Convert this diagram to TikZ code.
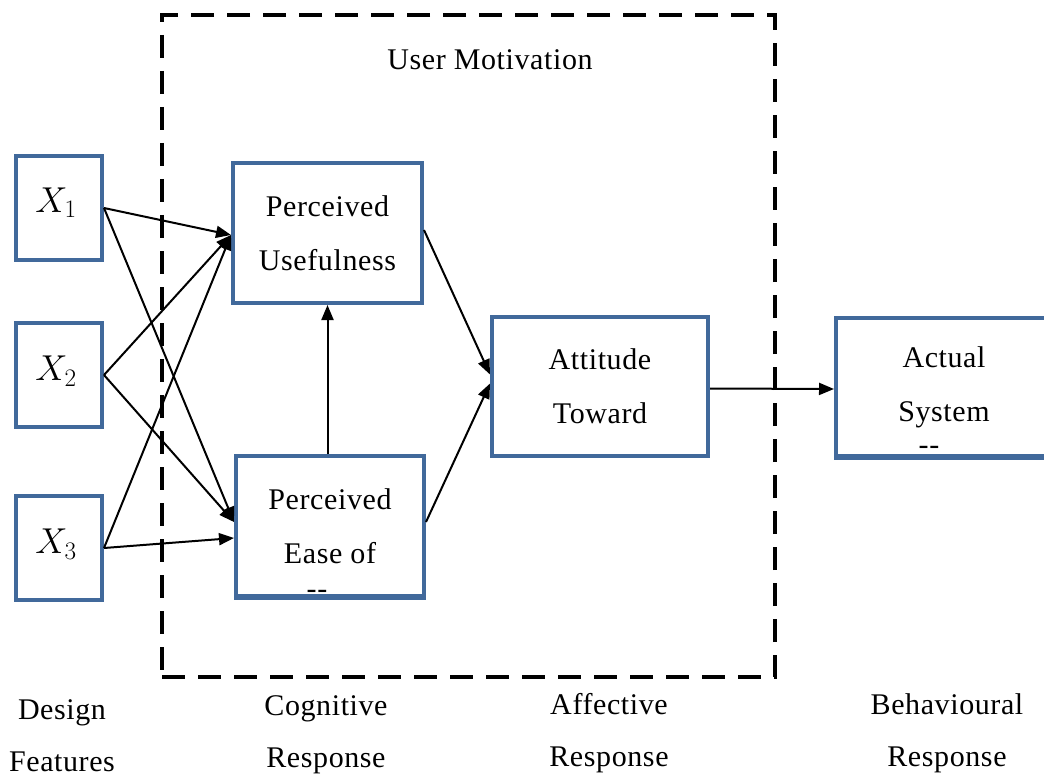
\RequirePackage{fix-cm}
\documentclass[tikz,border=0pt]{standalone}
\usepackage{fontspec}
\setmainfont[LetterSpace=2]{Liberation Serif}
\usetikzlibrary{arrows.meta,calc}
\definecolor{boxblue}{HTML}{41699B}
\tikzset{
  box/.style={draw=boxblue, line width=4pt, fill=white, inner sep=0pt, align=center,
    font=\fontsize{30}{54}\selectfont},
  xbox/.style={box, minimum width=86pt, minimum height=104pt},
  xlbl/.style={inner sep=0pt, font=\fontsize{36}{40}\selectfont},
  bigbox/.style={box, minimum height=140pt},
  conn/.style={line width=2pt, -{Triangle[length=15pt,width=12pt]}},
  lbl/.style={inner sep=0pt, font=\fontsize{30}{52}\selectfont, align=center},
  frame/.style={draw, line width=4pt, dash pattern=on 23pt off 13pt, minimum width=613pt, minimum height=662pt, inner sep=0pt}
}
\begin{document}
\begin{tikzpicture}[x=1pt,y=-1pt]
\useasboundingbox (0,0) rectangle (1044,778);
\clip (0,0) rectangle (1044,778);
% dashed frame
\node[frame] (um) at (468.5,346) {};
\node[lbl] (umt) at (490,60) {User Motivation};
% boxes
\node[xbox] (x1) at (59,208) {};
\node[xbox] (x2) at (59,375) {};
\node[xbox] (x3) at (59,548) {};
\node[xlbl] (x1t) at (56,203) {$X_1$};
\node[xlbl] (x2t) at (56,371) {$X_2$};
\node[xlbl] (x3t) at (56,544) {$X_3$};
\node[bigbox, minimum width=189pt] (pu) at (327.5,233) {Perceived\\Usefulness};
\node[bigbox, minimum width=188pt] (peou) at (330,526) {Perceived\\Ease of};
\node[bigbox, minimum width=216pt, minimum height=139pt] (att) at (600,386.5) {Attitude\\Toward};
\node[bigbox, minimum width=216pt, minimum height=138pt] (act) at (944,387) {Actual\\System};
% clipped dashes at box bottoms
\node[lbl] (d1) at (317,594) {-{}-};
\node[lbl] (d2) at (929,450) {-{}-};
\draw[draw=boxblue, line width=4pt] (peou.south west) -- (peou.south east);
\draw[draw=boxblue, line width=4pt] (act.south west) -- (act.south east);
% connectors
\draw[conn] (x1.east) -- ([yshift=-2pt]pu.west);
\draw[conn] (x2.east) -- ([yshift=-2pt]pu.west);
\draw[conn] (x3.east) -- ([yshift=-2pt]pu.west);
\draw[conn] (x1.east) -- ([yshift=4pt]peou.west);
\draw[conn] (x2.east) -- ([yshift=4pt]peou.west);
\draw[conn] (x3.east) -- ([yshift=-12pt]peou.west);
\draw[conn] (pu.south |- peou.north) -- (pu.south);
\draw[conn] ([yshift=3pt]pu.east) -- ([yshift=12pt]att.west);
\draw[conn] ([yshift=4pt]peou.east) -- ([yshift=3pt]att.west);
\draw[conn] ([yshift=-2pt]att.east) -- ([yshift=-2pt]act.west);
% bottom labels
\node[lbl] (df) at (62,736) {Design\\Features};
\node[lbl] (cr) at (326,735) {Cognitive\\Response};
\node[lbl] (ar) at (609,733) {Affective\\Response};
\node[lbl] (br) at (947,733) {Behavioural\\Response};
\end{tikzpicture}
\end{document}
